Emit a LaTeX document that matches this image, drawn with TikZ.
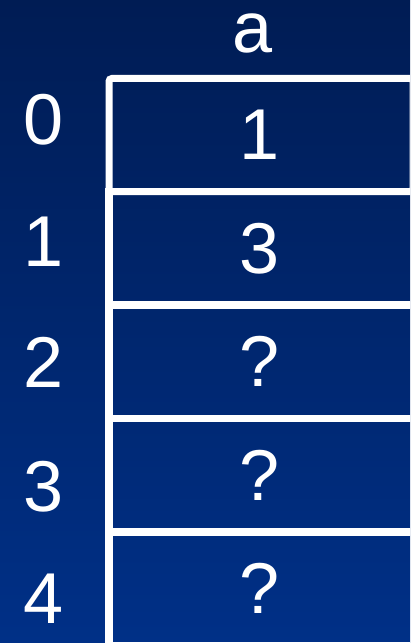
\documentclass[tikz,border=0pt]{standalone}
\usepackage{fontspec}
\setmainfont{Liberation Sans}
\definecolor{bgtop}{RGB}{0,28,84}
\definecolor{bgbot}{RGB}{0,48,135}
\begin{document}
\begin{tikzpicture}
[
    x=1bp, y=-1bp,
    cell/.style={draw=white, line width=7bp, rectangle, inner sep=0pt,
        minimum height=113bp},
    firstcell/.style={cell, rounded corners=3bp, minimum width=304bp},
    restcell/.style={cell, minimum width=330bp},
    big/.style={text=white, inner sep=0pt,
        font=\fontsize{72bp}{80bp}\selectfont}
]
    \useasboundingbox (0,0) rectangle (410,643);
    \clip (0,0) rectangle (410,643);
    \fill [top color=bgtop, bottom color=bgbot] (0,0) rectangle (410,643);

    % array cells
    \node [restcell] (cell4) at (274,588.5) {};
    \node [restcell] (cell3) at (274,475) {};
    \node [restcell] (cell2) at (274,361.7) {};
    \node [restcell] (cell1) at (274,248.3) {};
    \node [firstcell] (cell0) at (261,135) {};

    % values
    \node [big] (val0) at (259.5,135) {1};
    \node [big] (val1) at (259.5,248.3) {3};
    \node [big] (val2) at (259.5,361.7) {?};
    \node [big] (val3) at (259.5,475) {?};
    \node [big] (val4) at (259.5,588.5) {?};

    % indices
    \node [big] (idx0) at (44,120) {0};
    \node [big] (idx1) at (44,242) {1};
    \node [big] (idx2) at (44,362) {2};
    \node [big] (idx3) at (44,487) {3};
    \node [big] (idx4) at (44,599) {4};

    % array name
    \node [big, anchor=base] (name) at (253,53) {a};
\end{tikzpicture}
\end{document}
